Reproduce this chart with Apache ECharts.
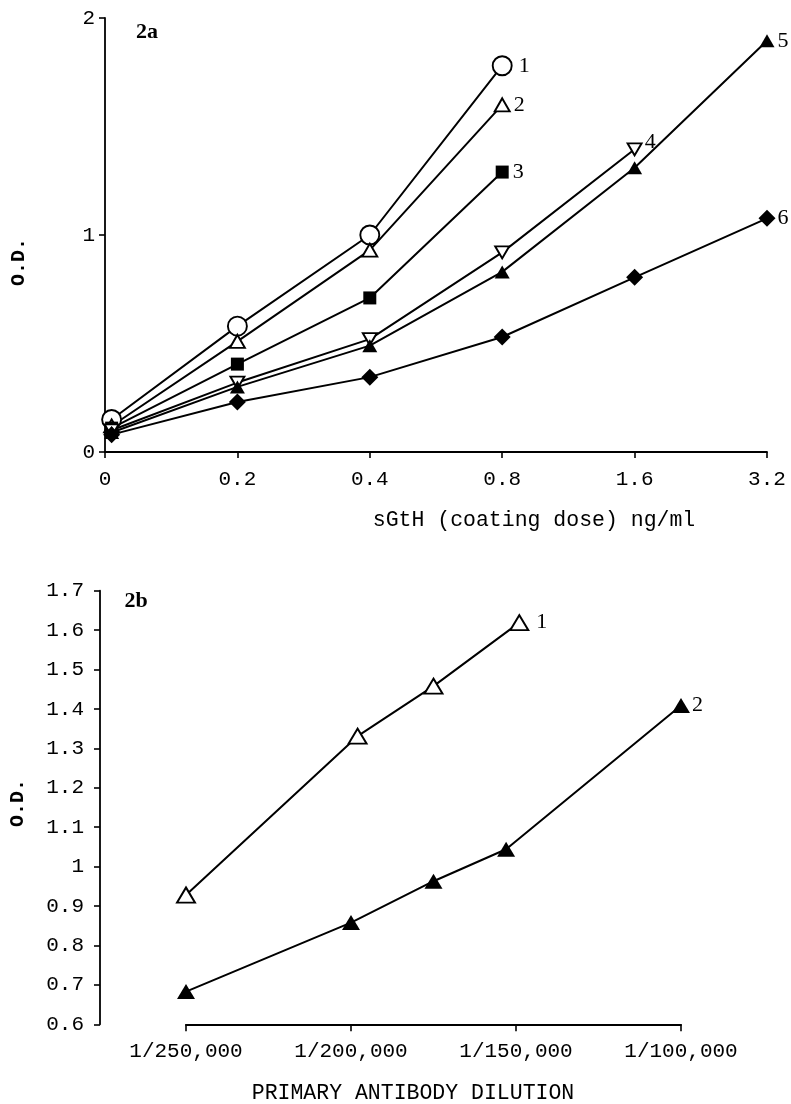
<!DOCTYPE html>
<html>
<head>
<meta charset="utf-8">
<script src="https://cdn.jsdelivr.net/npm/echarts@6/dist/echarts.min.js"></script>
<style>
  html, body { margin: 0; padding: 0; background: #fff; }
  #chart { width: 791px; height: 1104px; }
</style>
</head>
<body>
<div id="chart"></div>
<script>
// ---- Fig. 2a: O.D. against sGtH coating dose ----
const doseTicks = ['0', '0.2', '0.4', '0.8', '1.6', '3.2'];
// plotted position of each dose along the (ordinal) dose axis
const dosePos = [0.05, 1, 2, 3, 4, 5];
const curveNames = ['1', '2', '3', '4', '5', '6'];
const od1 = [0.15, 0.58, 1.00, 1.78];
const od2 = [0.12, 0.51, 0.93, 1.60];
const od3 = [0.11, 0.405, 0.71, 1.29];
const od4 = [0.10, 0.32, 0.52, 0.92, 1.395];
const od5 = [0.09, 0.30, 0.49, 0.83, 1.31, 1.895];
const od6 = [0.08, 0.23, 0.345, 0.53, 0.805, 1.077];

// ---- Fig. 2b: O.D. against primary antibody dilution ----
const dilutionTicks = ['1/250,000', '1/200,000', '1/150,000', '1/100,000'];
const dilutionTickDenoms = [250, 200, 150, 100]; // dilution denominator, thousands
const dilutionNames = ['1', '2'];
const dilOpen = [250, 198, 175, 149];
const odOpen = [0.928, 1.331, 1.458, 1.619];
const dilFilled = [250, 200, 175, 153, 100];
const odFilled = [0.683, 0.858, 0.963, 1.044, 1.409];

const MONO = '"Liberation Mono", "DejaVu Sans Mono", monospace';
const SERIF = '"Liberation Serif", "DejaVu Serif", serif';
const INK = '#000';

// builds [x, y] points; the last point carries the curve's number as a label
function points(xs, ys, tag) {
  return ys.map((y, i) => {
    const item = { value: [xs[i], y] };
    if (i === ys.length - 1) {
      item.label = Object.assign({
        show: true,
        position: 'right',
        distance: 3,
        formatter: '{a}',
        color: INK,
        fontFamily: SERIF,
        fontSize: 22
      }, tag || {});
    }
    return item;
  });
}

function axisCommon() {
  return {
    axisLine: { show: true, lineStyle: { color: INK, width: 1.8 } },
    axisTick: { show: true, length: 6, lineStyle: { color: INK, width: 1.6 } },
    splitLine: { show: false },
    axisLabel: { color: INK, fontFamily: MONO, fontSize: 21 }
  };
}

function curve(name, data, gridIdx, symbol, size, open, extra) {
  return Object.assign({
    type: 'line',
    name: name,
    xAxisIndex: gridIdx,
    yAxisIndex: gridIdx,
    data: data,
    symbol: symbol,
    symbolSize: size,
    showAllSymbol: true,
    symbolKeepAspect: true,
    lineStyle: { color: INK, width: 2 },
    itemStyle: open
      ? { color: '#fff', borderColor: INK, borderWidth: 1.9 }
      : { color: INK, borderColor: INK, borderWidth: 0 },
    label: { show: false },
    emphasis: { disabled: true },
    z: 3
  }, extra || {});
}

const chart = echarts.init(document.getElementById('chart'), null, { renderer: 'canvas' });

const xTop = Object.assign(axisCommon(), {
  type: 'value', gridIndex: 0, min: 0, max: 5, interval: 1,
  axisLabel: Object.assign(axisCommon().axisLabel, {
    margin: 17,
    formatter: v => doseTicks[Math.round(v)]
  })
});
const yTop = Object.assign(axisCommon(), {
  type: 'value', gridIndex: 0, min: 0, max: 2, interval: 1,
  axisLabel: Object.assign(axisCommon().axisLabel, { margin: 10 })
});
const xBot = Object.assign(axisCommon(), {
  type: 'value', gridIndex: 1, min: 100, max: 250, interval: 50, inverse: true,
  axisTick: { show: true, length: 7, lineStyle: { color: INK, width: 1.6 } },
  axisLabel: Object.assign(axisCommon().axisLabel, {
    margin: 17,
    formatter: v => dilutionTicks[dilutionTickDenoms.indexOf(Math.round(v))]
  })
});
const yBot = Object.assign(axisCommon(), {
  type: 'value', gridIndex: 1, min: 0.6, max: 1.7, interval: 0.1, offset: 86,
  axisLabel: Object.assign(axisCommon().axisLabel, {
    margin: 16,
    formatter: v => String(Math.round(v * 10) / 10)
  })
});

const textEl = (text, x, y, font, rotation) => ({
  type: 'text',
  x: x, y: y,
  rotation: rotation || 0,
  style: {
    text: text, font: font, fill: INK,
    align: 'center', verticalAlign: 'middle',
    textAlign: 'center', textVerticalAlign: 'middle'
  }
});

chart.setOption({
  animation: false,
  backgroundColor: '#fff',
  grid: [
    { left: 105, top: 18, width: 662, height: 434, containLabel: false },
    { left: 186, top: 590.7, width: 495, height: 433.6, containLabel: false }
  ],
  xAxis: [xTop, xBot],
  yAxis: [yTop, yBot],
  series: [
    curve(curveNames[0], points(dosePos, od1, { distance: 6 }), 0, 'circle', 19, true),
    curve(curveNames[1], points(dosePos, od2), 0, 'triangle', [15, 13], true),
    curve(curveNames[2], points(dosePos, od3, { distance: 4 }), 0, 'rect', 13, false),
    curve(curveNames[3], points(dosePos, od4, { distance: 2, offset: [0, -7] }), 0, 'triangle', [14, 12], true, { symbolRotate: 180 }),
    curve(curveNames[4], points(dosePos, od5), 0, 'triangle', [15, 13], false),
    curve(curveNames[5], points(dosePos, od6, { distance: 2 }), 0, 'diamond', [17, 17], false),
    curve(dilutionNames[0], points(dilOpen, odOpen, { distance: 7 }), 1, 'triangle', [18, 15], true),
    curve(dilutionNames[1], points(dilFilled, odFilled, { distance: 2 }), 1, 'triangle', [18, 15], false)
  ],
  graphic: [
    textEl('2a', 147, 32, 'bold 22px ' + SERIF),
    textEl('2b', 136, 601, 'bold 22px ' + SERIF),
    textEl('O.D.', 19, 262, 'bold 20px ' + MONO, Math.PI / 2),
    textEl('O.D.', 18, 803, 'bold 20px ' + MONO, Math.PI / 2),
    textEl('sGtH (coating dose) ng/ml', 534, 520, '21.5px ' + MONO),
    textEl('PRIMARY ANTIBODY DILUTION', 413, 1093, '21.5px ' + MONO)
  ]
});
</script>
</body>
</html>
